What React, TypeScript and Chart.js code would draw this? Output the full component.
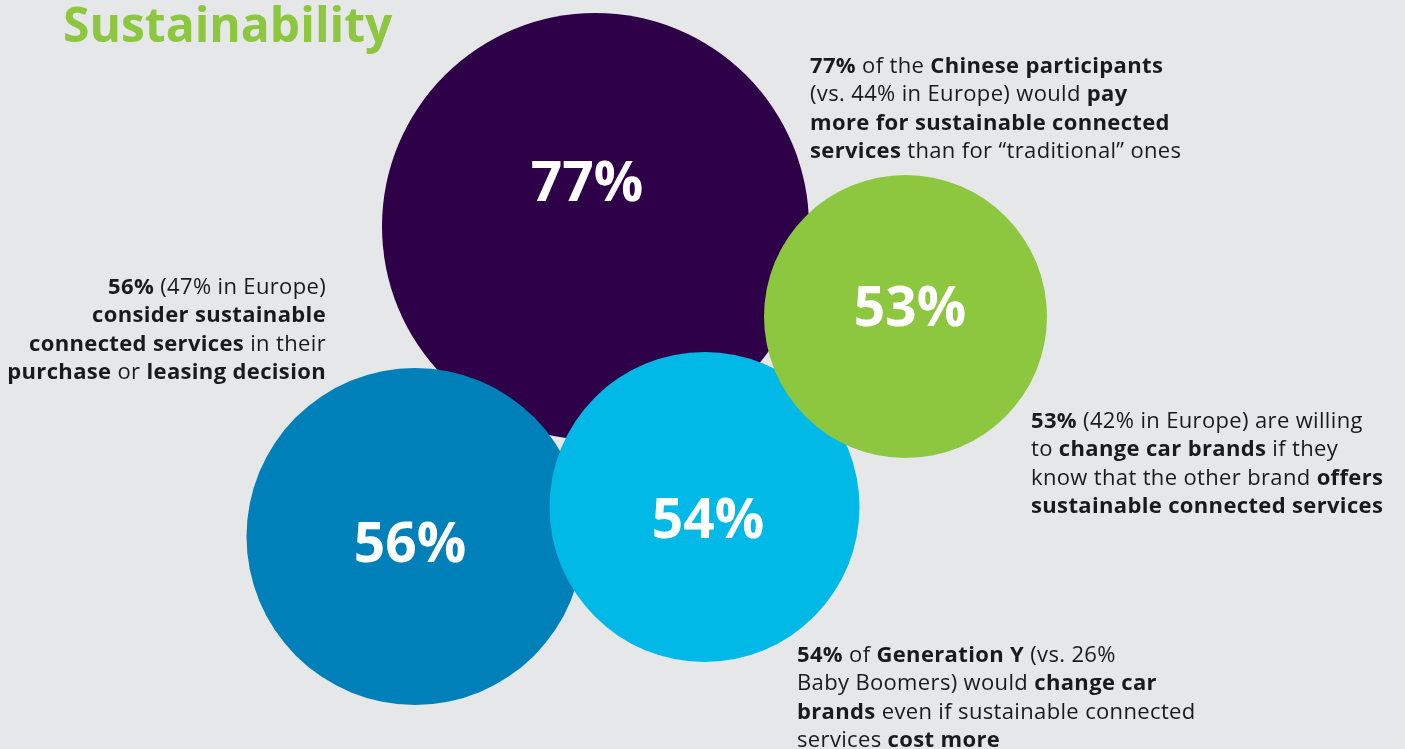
import React, { useEffect, useRef } from "react";
import { Chart, registerables } from "chart.js";

Chart.register(...registerables);

// ---- data ----
const labels = ["77%", "56%", "54%", "53%"];
const values = [77, 56, 54, 53];
const bubbleX = [595.5, 415, 704.5, 905.5];
const bubbleY = [226.5, 536.5, 507, 316.5];
const bubbleR = [213.5, 168.5, 155, 141.5];
const colors = ["#2d0047", "#0080b9", "#00b9e6", "#8dc63f"];
const labelDx = [-8.5, -5, 3.5, 4.5];
const labelDy = [-45.5, 5.5, 11, -10.5];

const title = "Sustainability";

type Run = [string, boolean];
const noteChina: Run[][] = [
  [["77%", true], [" of the ", false], ["Chinese participants", true]],
  [["(vs. 44% in Europe) would ", false], ["pay", true]],
  [["more for sustainable connected", true]],
  [["services", true], [" than for “traditional” ones", false]],
];
const notePurchase: Run[][] = [
  [["56%", true], [" (47% in Europe)", false]],
  [["consider sustainable", true]],
  [["connected services", true], [" in their", false]],
  [["purchase", true], [" or ", false], ["leasing decision", true]],
];
const noteBrands: Run[][] = [
  [["53%", true], [" (42% in Europe) are willing", false]],
  [["to ", false], ["change car brands", true], [" if they", false]],
  [["know that the other brand ", false], ["offers", true]],
  [["sustainable connected services", true]],
];
const noteGenY: Run[][] = [
  [["54%", true], [" of ", false], ["Generation Y", true], [" (vs. 26%", false]],
  [["Baby Boomers) would ", false], ["change car", true]],
  [["brands", true], [" even if sustainable connected", false]],
  [["services ", false], ["cost more", true]],
];

const X_MIN = 0;
const X_MAX = 1405;
const Y_MIN = 0;
const Y_MAX = 749;

const FONT = '"Open Sans", "Noto Sans", sans-serif';
const BG = "#e6e7e8";
const NOTE_SIZE = 22;
const NOTE_SPACING = "0.35px";

function drawRich(
  ctx: CanvasRenderingContext2D,
  lines: Run[][],
  x: number,
  y0: number,
  lh: number,
  align: "left" | "right",
  size: number
) {
  ctx.save();
  ctx.textBaseline = "alphabetic";
  ctx.textAlign = "left";
  ctx.fillStyle = "#1a1a1a";
  (ctx as any).letterSpacing = NOTE_SPACING;
  lines.forEach((runs, i) => {
    const y = y0 + i * lh;
    const widths = runs.map(([t, b]) => {
      ctx.font = `${b ? 700 : 400} ${size}px ${FONT}`;
      return ctx.measureText(t).width;
    });
    const total = widths.reduce((a, b) => a + b, 0);
    let cx = align === "right" ? x - total : x;
    runs.forEach(([t, b], j) => {
      ctx.font = `${b ? 700 : 400} ${size}px ${FONT}`;
      ctx.fillText(t, cx, y);
      cx += widths[j];
    });
  });
  ctx.restore();
}

const textPlugin = {
  id: "textPlugin",
  beforeDraw(chart: any) {
    const { ctx, width, height } = chart;
    ctx.save();
    ctx.fillStyle = BG;
    ctx.fillRect(0, 0, width, height);
    ctx.restore();
  },
  afterDatasetsDraw(chart: any) {
    const { ctx } = chart;
    const xs = chart.scales.x;
    const ys = chart.scales.y;
    // title
    ctx.save();
    ctx.fillStyle = "#8dc63f";
    ctx.font = `700 48px ${FONT}`;
    ctx.textBaseline = "alphabetic";
    ctx.textAlign = "left";
    ctx.fillText(title, 63, 42);
    ctx.restore();

    // bubble labels
    ctx.save();
    ctx.fillStyle = "#ffffff";
    ctx.font = `700 55px ${FONT}`;
    ctx.textAlign = "center";
    ctx.textBaseline = "alphabetic";
    labels.forEach((l, i) => {
      const px = xs.getPixelForValue(bubbleX[i]) + labelDx[i];
      const py = ys.getPixelForValue(bubbleY[i]) + labelDy[i];
      ctx.fillText(l, px, py + 19.5);
    });
    ctx.restore();

    // notes
    const lh = 28.4;
    drawRich(ctx, noteChina, 810, 73, lh, "left", NOTE_SIZE);
    drawRich(ctx, notePurchase, 326, 294, lh, "right", NOTE_SIZE);
    drawRich(ctx, noteBrands, 1031, 428, lh, "left", NOTE_SIZE);
    drawRich(ctx, noteGenY, 797, 662, lh, "left", NOTE_SIZE);
  },
};

export default function App() {
  const ref = useRef<HTMLCanvasElement | null>(null);
  useEffect(() => {
    document.body.style.margin = "0";
    document.body.style.background = BG;
    const canvas = ref.current;
    if (!canvas) return;
    const chart = new Chart(canvas, {
      type: "bubble",
      data: {
        labels,
        datasets: [
          {
            label: "Sustainability",
            data: values.map((v, i) => ({ x: bubbleX[i], y: bubbleY[i], v })),
            backgroundColor: colors,
            hoverBackgroundColor: colors,
            borderWidth: 0,
            hoverBorderWidth: 0,
            clip: false as any,
            radius: (c: any) =>
              (bubbleR[c.dataIndex] * (c.chart.width || X_MAX)) / (X_MAX - X_MIN),
          } as any,
        ],
      },
      options: {
        animation: false,
        responsive: false,
        events: [],
        layout: { padding: 0, autoPadding: false } as any,
        plugins: {
          legend: { display: false },
          tooltip: { enabled: false },
        },
        scales: {
          x: { type: "linear", min: X_MIN, max: X_MAX, display: false },
          y: { type: "linear", min: Y_MIN, max: Y_MAX, reverse: true, display: false },
        },
      },
      plugins: [textPlugin],
    });
    return () => chart.destroy();
  }, []);
  return (
    <canvas
      ref={ref}
      width={1405}
      height={749}
      style={{ display: "block", width: 1405, height: 749 }}
    />
  );
}
